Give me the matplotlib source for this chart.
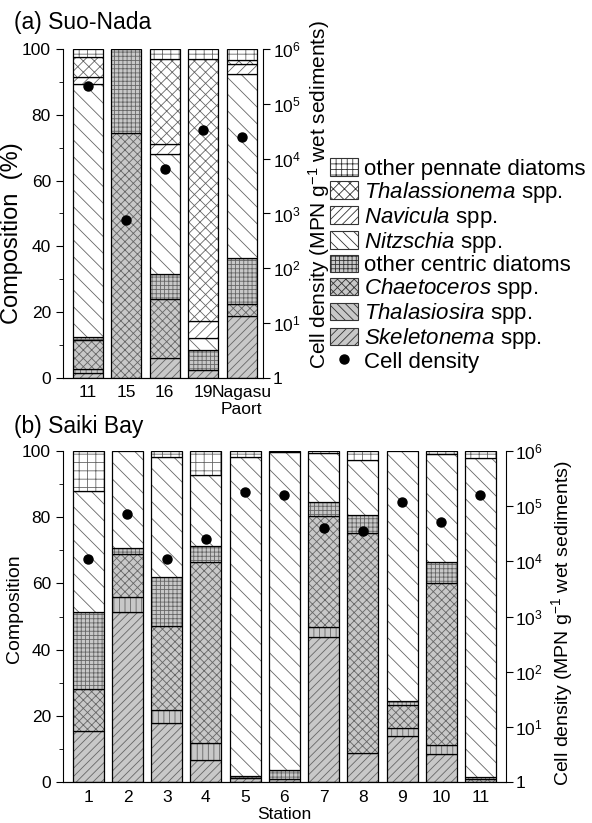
import numpy as np
import matplotlib
matplotlib.use("Agg")
import matplotlib.pyplot as plt
from matplotlib.patches import Patch
from matplotlib.lines import Line2D
from matplotlib.ticker import NullLocator

plt.rcParams["font.family"] = ["Liberation Sans", "DejaVu Sans"]
plt.rcParams["mathtext.fontset"] = "custom"
plt.rcParams["mathtext.rm"] = "Liberation Sans"
plt.rcParams["mathtext.it"] = "Liberation Sans:italic"
plt.rcParams["hatch.linewidth"] = 0.6

# (a) Suo-Nada, composition in % (bottom to top)
suo_stations = ["11", "15", "16", "19", "Nagasu\nPaort"]
suo_skeletonema = [1.6, 0, 6, 2.5, 18.7]
suo_thalasiosira = [1.1, 0, 0, 0, 0]
suo_chaetoceros = [8.8, 74.5, 18, 0, 3.7]
suo_other_centric = [1.0, 25.5, 7.5, 6, 14.2]
suo_nitzschia = [77, 0, 36.5, 3.8, 55.7]
suo_navicula = [2, 0, 3, 5, 3.2]
suo_thalassionema = [6, 0, 26, 79.7, 1]
suo_other_pennate = [2.5, 0, 3, 3, 3.5]
suo_density = [2.1e5, 7.6e2, 6.4e3, 3.4e4, 2.5e4]

# (b) Saiki Bay
saiki_stations = ["1", "2", "3", "4", "5", "6", "7", "8", "9", "10", "11"]
saiki_skeletonema = [15.4, 51.5, 17.9, 6.6, 1.3, 1.0, 43.9, 8.7, 13.8, 8.6, 0]
saiki_thalasiosira = [0, 4.4, 3.8, 5.2, 0, 0, 2.8, 0, 2.4, 2.5, 0]
saiki_chaetoceros = [12.6, 12.9, 25.4, 54.7, 0, 0, 33.6, 66.4, 7.0, 49.1, 0.8]
saiki_other_centric = [23.4, 1.8, 14.9, 4.8, 0.6, 2.5, 4.4, 5.7, 1.3, 6.3, 0.7]
saiki_nitzschia = [36.6, 29.4, 36.3, 21.6, 96.3, 96.1, 14.8, 16.6, 75.5, 32.5, 96.5]
saiki_navicula = [0, 0, 0, 0, 0, 0, 0, 0, 0, 0, 0]
saiki_thalassionema = [0, 0, 0, 0, 0, 0, 0, 0, 0, 0, 0]
saiki_other_pennate = [12, 0, 1.7, 7.1, 1.8, 0.4, 0.5, 2.6, 0, 1.0, 2.0]
saiki_density = [1.08e4, 7.1e4, 1.08e4, 2.5e4, 1.8e5, 1.6e5, 4.0e4, 3.6e4, 1.2e5, 5.2e4, 1.6e5]

GRAY = "#c8c8c8"
HATCH_COL = "#666666"
# face, bar hatch, legend hatch, label
styles = [
    (GRAY, "////", "////", r"$\mathit{Skeletonema}$ spp."),
    (GRAY, "|||", "\\\\\\\\", r"$\mathit{Thalasiosira}$ spp."),
    (GRAY, "xxxx", "xxxx", r"$\mathit{Chaetoceros}$ spp."),
    (GRAY, "++++", "++++", "other centric diatoms"),
    ("white", "\\\\", "\\\\\\", r"$\mathit{Nitzschia}$ spp."),
    ("white", "///", "////", r"$\mathit{Navicula}$ spp."),
    ("white", "xxx", "xxx", r"$\mathit{Thalassionema}$ spp."),
    ("white", "++", "+++", "other pennate diatoms"),
]


def draw_panel(ax, stations, layers, density, width, xlim, ylabel, lsize, ly, rsize, ry, xpad):
    x = np.arange(len(stations))
    bottom = np.zeros(len(stations))
    for vals, (face, hatch, _, _) in zip(layers, styles):
        vals = np.array(vals, dtype=float)
        m = vals > 0
        ax.bar(x[m], vals[m], bottom=bottom[m], width=width, color=face,
               edgecolor=HATCH_COL, hatch=hatch, linewidth=0)
        ax.bar(x[m], vals[m], bottom=bottom[m], width=width, fill=False,
               edgecolor="black", linewidth=0.9)
        bottom += vals
    ax.set_xlim(*xlim)
    ax.set_ylim(0, 100)
    ax.set_yticks(range(0, 101, 20))
    ax.set_yticks(range(10, 100, 20), minor=True)
    ax.set_xticks(x)
    ax.set_xticklabels(stations)
    ax.tick_params(axis="x", length=0, pad=xpad, labelsize=12.5)
    ax.tick_params(axis="y", which="major", direction="out", length=5, labelsize=12.5)
    ax.tick_params(axis="y", which="minor", direction="out", length=3)
    ax.spines["top"].set_visible(False)
    ax.spines["right"].set_visible(False)
    ax.set_ylabel(ylabel, fontsize=lsize, labelpad=3)
    ax.yaxis.set_label_coords(-0.2 if len(stations) < 6 else -0.09, ly)

    ax2 = ax.twinx()
    ax2.set_yscale("log")
    ax2.set_ylim(1, 1e6)
    ax2.plot(x, density, "o", color="black", markersize=6.5)
    ax2.set_yticks([10 ** k for k in range(7)])
    ax2.set_yticklabels(["1"] + [f"$10^{{{k}}}$" for k in range(1, 7)])
    ax2.yaxis.set_minor_locator(NullLocator())
    ax2.tick_params(axis="y", direction="out", length=5, labelsize=12.5, pad=2)
    ax2.spines["top"].set_visible(False)
    ax2.spines["left"].set_visible(False)
    ax2.set_ylabel("Cell density (MPN g$^{-1}$ wet sediments)", fontsize=rsize, labelpad=4)
    ax2.yaxis.label.set_y(ry)
    return ax2


def draw():
    fig = plt.figure(figsize=(5.92, 8.23), dpi=100)
    ax_a = fig.add_axes([0.106, 0.5407, 0.338, 0.3998])
    ax_b = fig.add_axes([0.106, 0.0498, 0.748, 0.4022])

    suo_layers = [suo_skeletonema, suo_thalasiosira, suo_chaetoceros, suo_other_centric,
                  suo_nitzschia, suo_navicula, suo_thalassionema, suo_other_pennate]
    saiki_layers = [saiki_skeletonema, saiki_thalasiosira, saiki_chaetoceros, saiki_other_centric,
                    saiki_nitzschia, saiki_navicula, saiki_thalassionema, saiki_other_pennate]

    draw_panel(ax_a, suo_stations, suo_layers, suo_density, 0.78, (-0.65, 4.55),
               "Composition  (%)", 17, 0.44, 15, 0.556, 5)
    draw_panel(ax_b, saiki_stations, saiki_layers, saiki_density, 0.79, (-0.65, 10.64),
               "Composition", 14, 0.523, 14, 0.48, 6)
    ax_b.set_xlabel("Station", fontsize=12.5, labelpad=1)

    fig.text(14 / 592, 1 - 22 / 823, "(a) Suo-Nada", fontsize=16.5, va="center")
    fig.text(14 / 592, 1 - 427 / 823, "(b) Saiki Bay", fontsize=16.5, va="center")

    handles = []
    labels = []
    for face, _, lhatch, label in reversed(styles):
        handles.append(Patch(facecolor=face, edgecolor="#333333", hatch=lhatch, linewidth=0.8))
        labels.append(label)
    handles.append(Line2D([], [], marker="o", color="black", ls="none", markersize=6.5))
    labels.append("Cell density")
    fig.legend(handles, labels, loc="upper left", bbox_to_anchor=(0.557, 0.808),
               frameon=False, fontsize=16, handlelength=1.25, handleheight=0.85,
               labelspacing=0.0, handletextpad=0.3, borderpad=0, borderaxespad=0)

    plt.savefig("out.png", dpi=100)


def main():
    draw()


if __name__ == "__main__":
    main()
